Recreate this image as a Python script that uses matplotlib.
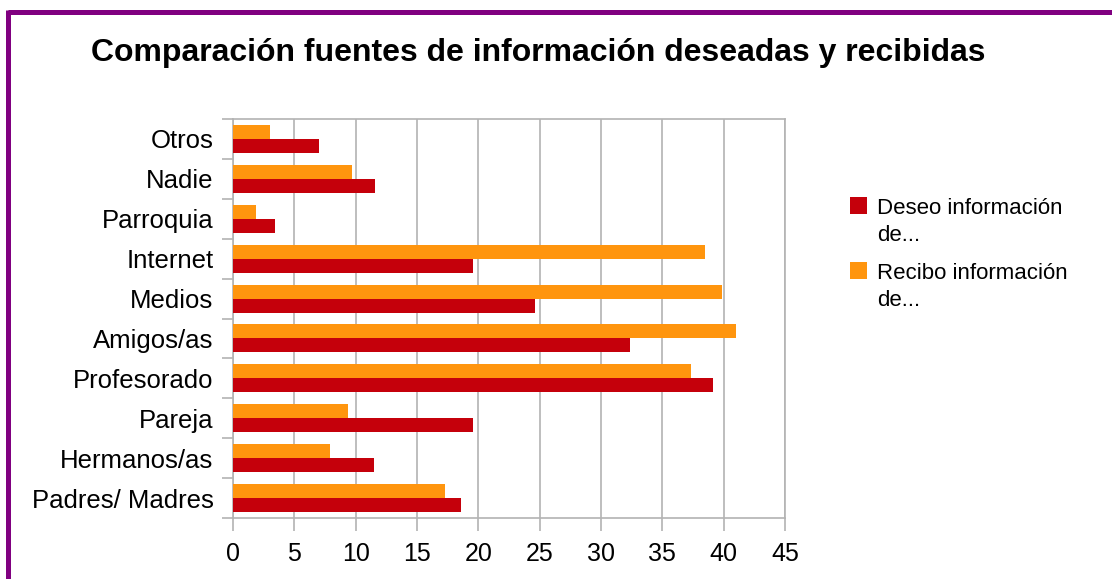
import numpy as np
import matplotlib.pyplot as plt
from matplotlib.lines import Line2D
from matplotlib.patches import Rectangle

plt.rcParams['font.family'] = ['Liberation Sans', 'DejaVu Sans']

# Fuentes de información, de abajo hacia arriba
categorias = ['Padres/ Madres', 'Hermanos/as', 'Pareja', 'Profesorado', 'Amigos/as',
              'Medios', 'Internet', 'Parroquia', 'Nadie', 'Otros']
deseo = [18.6, 11.5, 19.6, 39.1, 32.4, 24.6, 19.6, 3.4, 11.6, 7.0]
recibo = [17.3, 7.9, 9.4, 37.3, 41.0, 39.9, 38.5, 1.9, 9.7, 3.0]
xticks = list(range(0, 50, 5))
series = ['Deseo información\nde...', 'Recibo información\nde...']

rojo = '#c5000b'
naranja = '#ff950e'
gris = '#b3b3b3'

W, H = 1112, 579
fig = plt.figure(figsize=(W / 100, H / 100), dpi=100)
ax = fig.add_axes([233 / W, 1 - 518 / H, 552 / W, 399 / H])

y = np.arange(len(categorias))
h = 0.35
ax.barh(y - h / 2, deseo, height=h, color=rojo, zorder=3)
ax.barh(y + h / 2, recibo, height=h, color=naranja, zorder=3)

ax.set_xlim(0, 45)
ax.set_ylim(-0.5, len(categorias) - 0.5)
ax.set_xticks(xticks)
ax.set_xticklabels([str(v) for v in xticks], fontsize=18)
ax.set_yticks(y)
ax.set_yticklabels(categorias, fontsize=18.5)
ax.set_yticks(np.arange(-0.5, len(categorias), 1.0), minor=True)
ax.tick_params(axis='y', which='major', length=0, pad=14)
ax.tick_params(axis='y', which='minor', length=8, color=gris, width=1.2)
ax.tick_params(axis='x', length=9, color=gris, width=1.2, pad=8)
ax.grid(axis='x', color=gris, linewidth=1.2, zorder=0)
for s in ax.spines.values():
    s.set_color(gris)
    s.set_linewidth(1.2)

fig.text(538 / W, 1 - 61 / H, 'Comparación fuentes de información deseadas y recibidas',
         ha='center', va='baseline', fontsize=23, fontweight='bold')

# leyenda: cuadro de color alineado con la primera línea del texto
for i, (lab, col) in enumerate(zip(series, [rojo, naranja])):
    top = 197 + i * 65
    fig.add_artist(Rectangle((850 / W, 1 - (top + 17) / H), 17 / W, 17 / H,
                             facecolor=col, edgecolor='none', transform=fig.transFigure))
    fig.text(877 / W, 1 - (top + 1) / H, lab, ha='left', va='top',
             fontsize=16, linespacing=1.35)

# marco morado: solo borde superior e izquierdo
fig.add_artist(Line2D([8 / W, 1], [1 - 11.5 / H] * 2, color='#800080', linewidth=3.6,
                      transform=fig.transFigure, solid_capstyle='butt'))
fig.add_artist(Line2D([8 / W] * 2, [0, 1 - 9.5 / H], color='#800080', linewidth=3.6,
                      transform=fig.transFigure, solid_capstyle='butt'))

fig.savefig('out.png', dpi=100)
